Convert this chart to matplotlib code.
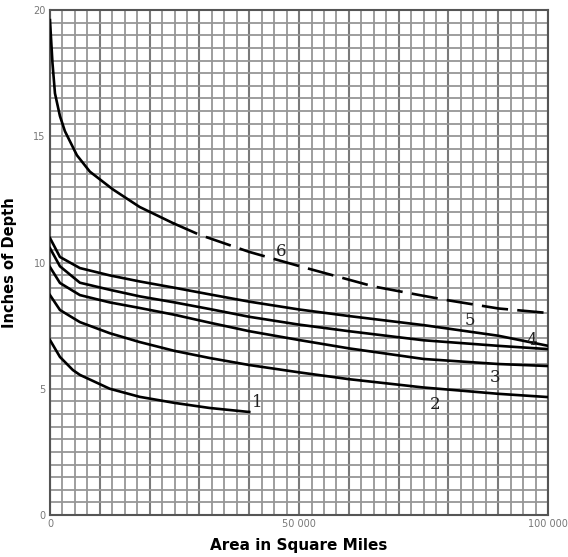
import matplotlib.pyplot as plt
import numpy as np

# area in square miles / inches of depth
x6 = [0, 500, 1000, 2000, 3000, 5400, 8000, 12600, 18000, 24700, 30000, 40000, 50000, 65000, 75000, 80000, 90000, 100000]
y6 = [19.6, 17.9, 16.7, 15.8, 15.2, 14.25, 13.6, 12.9, 12.2, 11.56, 11.1, 10.42, 9.86, 9.05, 8.68, 8.5, 8.18, 8.0]

xs = [0, 2000, 6000, 12000, 18000, 25000, 32000, 40000, 50000, 60000, 75000, 90000, 100000]
y5 = [10.97, 10.22, 9.78, 9.49, 9.25, 9.00, 8.74, 8.45, 8.14, 7.88, 7.52, 7.10, 6.70]
y4 = [10.57, 9.85, 9.20, 8.92, 8.66, 8.42, 8.16, 7.85, 7.54, 7.28, 6.92, 6.70, 6.57]
y3 = [9.82, 9.19, 8.71, 8.42, 8.20, 7.93, 7.62, 7.28, 6.93, 6.60, 6.18, 5.98, 5.90]
y2 = [8.71, 8.12, 7.64, 7.20, 6.85, 6.50, 6.22, 5.94, 5.65, 5.38, 5.05, 4.80, 4.67]

x1 = [0, 2000, 4600, 6000, 12000, 18000, 25000, 32000, 40000]
y1 = [6.93, 6.26, 5.74, 5.55, 5.00, 4.68, 4.44, 4.24, 4.08]

curve_labels = ["6", "5", "4", "3", "2", "1"]
label_x = [46400, 84300, 96800, 89400, 77300, 41600]
label_y = [10.42, 7.72, 6.93, 5.43, 4.36, 4.44]

fig = plt.figure(figsize=(5.68, 5.57), dpi=100)
ax = fig.add_axes([0.088, 0.0754, 0.877, 0.9066])

ax.set_xlim(0, 100000)
ax.set_ylim(0, 20)

# graph paper
grid_c = "#969696"
for gx in np.arange(0, 100001, 2500):
    dark = gx % 10000 == 0
    ax.axvline(gx, color="#7a7a7a" if dark else grid_c, lw=1.5 if dark else 1.3, zorder=1)
for gy in np.arange(0, 20.01, 0.5):
    ax.axhline(gy, color=grid_c, lw=1.3, zorder=1)

for s in ax.spines.values():
    s.set_color("#555555")
    s.set_linewidth(1.5)

lw = 1.9
# curve 6: solid start, then long dashes
split = 10
ax.plot(x6[:split], y6[:split], color="black", lw=lw, zorder=3)
line6, = ax.plot(x6[split - 1:], y6[split - 1:], color="black", lw=lw, zorder=3)
line6.set_dashes((10, 3.5))
ax.plot(xs, y5, color="black", lw=lw, zorder=3)
ax.plot(xs, y4, color="black", lw=lw, zorder=3)
ax.plot(xs, y3, color="black", lw=lw, zorder=3)
ax.plot(xs, y2, color="black", lw=lw, zorder=3)
ax.plot(x1, y1, color="black", lw=lw, zorder=3)

for t, lx, ly in zip(curve_labels, label_x, label_y):
    ax.text(lx, ly, t, fontsize=12, family="DejaVu Serif", color="#222222",
            ha="center", va="center", zorder=4)

ax.set_xticks([0, 50000, 100000])
ax.set_xticklabels(["0", "50 000", "100 000"])
ax.set_yticks([0, 5, 10, 15, 20])
ax.tick_params(length=0, labelsize=7, labelcolor="#777777", pad=3)

ax.set_xlabel("Area in Square Miles", fontsize=11, fontweight="bold", labelpad=6)
ax.set_ylabel("Inches of Depth", fontsize=10.5, fontweight="bold", labelpad=12)

fig.savefig("out.png", dpi=100)
